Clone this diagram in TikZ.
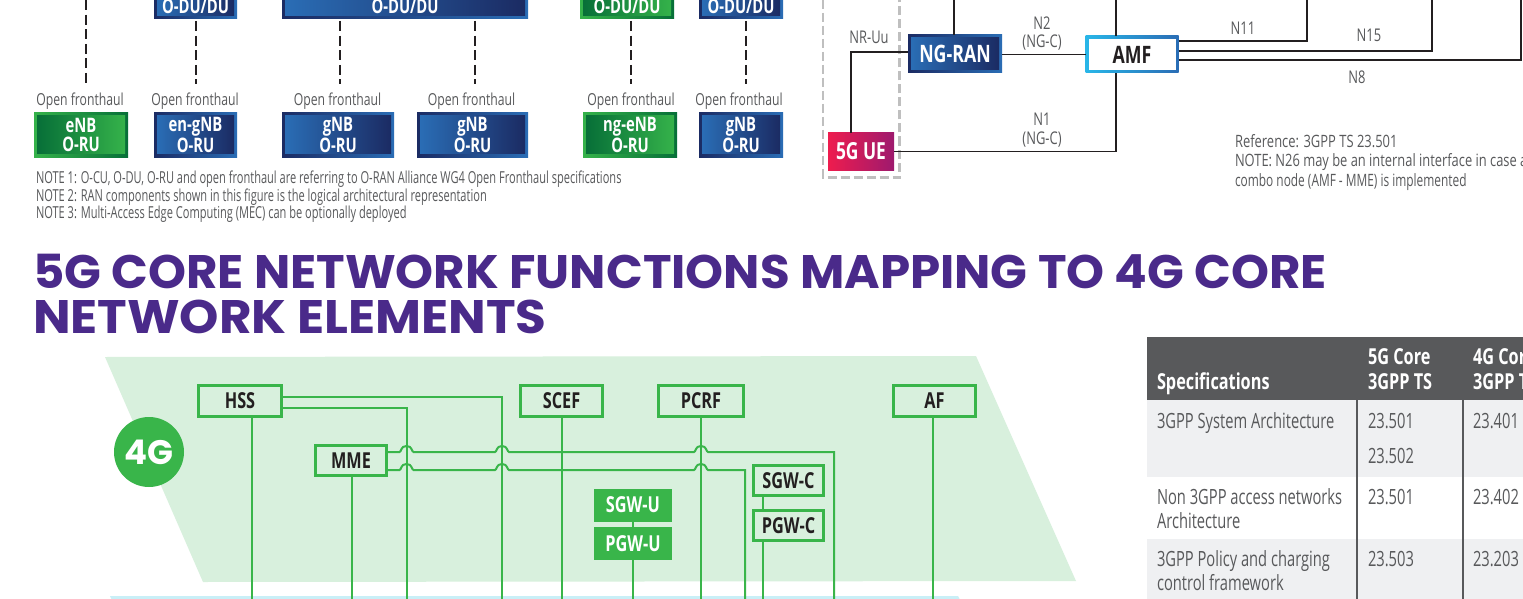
\documentclass[tikz,border=0pt]{standalone}
\usepackage{fontspec}
\setmainfont{Open Sans}
\newfontfamily\cond[FakeStretch=0.74]{Open Sans}
\newfontfamily\ncond[FakeStretch=0.67]{Open Sans}
\newfontfamily\tcond[FakeStretch=0.70]{Open Sans}
\newfontfamily\titlef{Poppins}
\definecolor{lg}{HTML}{58595B}
\definecolor{ink}{HTML}{231F20}
\definecolor{gr}{HTML}{39B54A}
\definecolor{bgr}{HTML}{D8F0DD}
\definecolor{bluestrip}{HTML}{C9EFF7}
\definecolor{purp}{HTML}{4A2A8A}
\definecolor{bl}{HTML}{2A6DB5}
\definecolor{bd}{HTML}{1B2B63}
\definecolor{gl}{HTML}{35B24A}
\definecolor{gd}{HTML}{076F38}
\definecolor{rowg}{HTML}{EFF0F2}
\definecolor{uer}{HTML}{EE1C4E}
\definecolor{uem}{HTML}{9E1A6E}
\definecolor{amfc}{HTML}{29B6E8}
\tikzset{
  every node/.style={inner sep=0pt,outer sep=0pt},
  lab/.style={font=\cond\fontsize{16.5}{17}\selectfont,text=lg,anchor=base},
  ifl/.style={font=\cond\fontsize{17.5}{18}\selectfont,text=lg,anchor=base},
  notew/.style={font=\ncond\fontsize{16.5}{17}\selectfont,text=lg,anchor=base west},
  refw/.style={font=\cond\fontsize{17}{18}\selectfont,text=lg,anchor=base west,transform shape},
  bo/.style={left color=bd,right color=bl},
  bi/.style={left color=bl,right color=bd,text=white},
  go/.style={left color=gl,right color=gd},
  gi/.style={left color=gd,right color=gl,text=white},
  boxt/.style={font=\cond\bfseries\fontsize{20}{18.5}\selectfont,align=center},
  dsh/.style={draw=ink,line width=2pt,dash pattern=on 10pt off 4.6pt},
  blk/.style={draw=ink,line width=1.8pt},
  gw/.style={draw=gr,line width=2pt},
  gbx/.style={draw=gr,line width=3pt,font=\cond\bfseries\fontsize{22}{22}\selectfont,text=ink,anchor=center},
  gfl/.style={fill=gr,font=\cond\bfseries\fontsize{22}{22}\selectfont,text=white,anchor=center},
  th/.style={font=\cond\bfseries\fontsize{22}{22}\selectfont,text=white,anchor=base west},
  td/.style={font=\tcond\fontsize{21}{21}\selectfont,text=lg,anchor=base west},
  ttl/.style={anchor=base west,font=\titlef\bfseries\fontsize{47}{47}\selectfont,text=purp,transform shape},
}
\newcommand\gb[7]{%
  \pgfmathsetmacro\wi{#4-6}\pgfmathsetmacro\hi{#5-6}%
  \node[#6o,minimum width=#4pt,minimum height=#5pt] (#1) at (#2,#3) {};
  \node[#6i,boxt,minimum width=\wi pt,minimum height=\hi pt] (#1-i) at (#2,#3) {#7};
}
\newcommand\hopat[2]{-- (#1-7,#2) .. controls (#1-5,#2) and (#1-6,#2-6) .. (#1,#2-6) .. controls (#1+6,#2-6) and (#1+5,#2) .. (#1+7,#2)}
\begin{document}
\begin{tikzpicture}[x=1pt,y=-1pt]
\clip (0,0) rectangle (1523,599);
\fill[white] (0,0) rectangle (1523,599);
% --- top-left RAN
\gb{t1}{195.5}{6}{83}{26}{b}{O-DU/DU}
\gb{t2}{405}{6}{246}{26}{b}{O-DU/DU}
\gb{t3}{627}{6}{94}{26}{g}{O-DU/DU}
\gb{t4}{741}{6}{84}{26}{b}{O-DU/DU}
\gb{r1}{81}{135}{94}{44}{g}{eNB\\O-RU}
\gb{r2}{195.5}{135}{83}{44}{b}{en-gNB\\O-RU}
\gb{r3}{338}{135}{112}{44}{b}{gNB\\O-RU}
\gb{r4}{472.5}{135}{111}{44}{b}{gNB\\O-RU}
\gb{r5}{630}{135}{94}{44}{g}{ng-eNB\\O-RU}
\gb{r6}{741}{135}{84}{44}{b}{gNB\\O-RU}
\coordinate (e0) at (85.5,84);\coordinate (e1) at (195.5,84);\coordinate (e2) at (339.5,84);
\coordinate (e3) at (474.5,84);\coordinate (e4) at (630.5,84);\coordinate (e5) at (745.5,84);
\coordinate (s0) at (85.5,0);
\draw[dsh] (s0) -- (e0);
\draw[dsh] (t1.south -| e1) ++(0,2) -- (e1);
\draw[dsh] (t2.south -| e2) ++(0,2) -- (e2);
\draw[dsh] (t2.south -| e3) ++(0,2) -- (e3);
\draw[dsh] (t3.south -| e4) ++(0,2) -- (e4);
\draw[dsh] (t4.south -| e5) ++(0,2) -- (e5);
\foreach \n/\x in {o1/80,o2/195,o3/337.5,o4/471.5,o5/631,o6/739}
  \node[lab] (\n) at (\x,106) {Open fronthaul};
\node[notew] (n1) at (36,183) {NOTE 1: O-CU, O-DU, O-RU and open fronthaul are referring to O-RAN Alliance WG4 Open Fronthaul specifications};
\node[notew] (n2) at (36,201) {NOTE 2: RAN components shown in this figure is the logical architectural representation};
\node[notew] (n3) at (36,218) {NOTE 3: Multi-Access Edge Computing (MEC) can be optionally deployed};
% --- top-right 5G
\draw[draw=black!25,line width=2.2pt,dash pattern=on 9pt off 4pt] (823,0) -- (823,177.5) -- (899.5,177.5) -- (899.5,0);
\gb{ran}{955}{54}{94}{38}{b}{\fontsize{24}{24}\selectfont NG-RAN}
\node[left color=amfc,right color=bl,minimum width=93pt,minimum height=37pt] (amfo) at (1132,54.5) {};
\node[fill=white,text=ink,font=\cond\bfseries\fontsize{24}{24}\selectfont,minimum width=87pt,minimum height=31pt] (amf) at (1132,54.5) {AMF};
\node[left color=uer,right color=uem,text=white,font=\cond\bfseries\fontsize{23.5}{24}\selectfont,minimum width=66pt,minimum height=37pt] (ue) at (861,151.5) {5G UE};
\coordinate (c1) at (954,0);\coordinate (c2) at (1116,0);\coordinate (c3) at (851,52);
\coordinate (c4) at (1307,0);\coordinate (c5) at (1432,0);\coordinate (c6) at (1521,0);
\draw[blk] (ran.north -| c1) -- (c1);
\draw[blk] (amfo.north -| c2) -- (c2);
\draw[blk] (ue.north -| c3) -- (c3) -- (ran.west |- c3);
\draw[blk] (ran.east |- 0,54.5) -- (amfo.west |- 0,54.5);
\draw[blk] (ue.east) -- (ue.east -| c2) -- (amfo.south -| c2);
\draw[draw=ink,line width=1.5pt] (amfo.east |- 0,41) -- (c4 |- 0,41) -- (c4);
\draw[draw=ink,line width=2pt] (amfo.east |- 0,51) -- (c5 |- 0,51) -- (c5);
\draw[draw=ink,line width=1.5pt] (amfo.east |- 0,60) -- (c6 |- 0,60) -- (c6);
\node[ifl] (lnr) at (869,44) {NR-Uu};
\node[ifl] (ln2) at (1042,30) {N2};
\node[ifl] (ln2b) at (1042,48) {(NG-C)};
\node[ifl] (ln1) at (1042,126) {N1};
\node[ifl] (ln1b) at (1042,145) {(NG-C)};
\node[ifl] (ln11) at (1243,35) {N11};
\node[ifl] (ln15) at (1369,42) {N15};
\node[ifl] (ln8) at (1357,84) {N8};
\node[refw,xscale=1.03] (rf1) at (1235,147) {Reference: 3GPP TS 23.501};
\node[refw,xscale=1.025] (rf2) at (1235,167) {NOTE: N26 may be an internal interface in case a};
\node[refw,xscale=0.945] (rf3) at (1235,186) {combo node (AMF - MME) is implemented};
% --- title
\node[ttl,xscale=1.028] (title1) at (33,288) {5G CORE NETWORK FUNCTIONS MAPPING TO 4G CORE};
\node[ttl,xscale=1.065] (title2) at (33,333) {NETWORK ELEMENTS};
% --- 4G plane
\fill[bgr] (105,357) -- (976,356) -- (1076,581) -- (203,582) -- cycle;
\fill[bluestrip] (110,596) -- (958,596) -- (960,600) -- (112,600) -- cycle;
\node[circle,fill=gr,minimum size=70pt,text=white,font=\titlef\bfseries\fontsize{34}{34}\selectfont] (g4) at (149,452) {4G};
\node[gbx,minimum width=83pt,minimum height=31pt] (hss) at (240,401) {HSS};
\node[gbx,minimum width=71pt,minimum height=30pt] (mme) at (351,460.5) {MME};
\node[gbx,minimum width=82pt,minimum height=31pt] (scef) at (561.5,401) {SCEF};
\node[gbx,minimum width=85pt,minimum height=31pt] (pcrf) at (701,401) {PCRF};
\node[gbx,minimum width=82pt,minimum height=31pt] (af) at (934.5,401) {AF};
\node[gbx,minimum width=70pt,minimum height=30pt] (sgwc) at (788.5,480.5) {SGW-C};
\node[gbx,minimum width=70pt,minimum height=30pt] (pgwc) at (788.5,525.5) {PGW-C};
\node[gfl,minimum width=78pt,minimum height=33pt] (sgwu) at (633,505) {SGW-U};
\node[gfl,minimum width=78pt,minimum height=33pt] (pgwu) at (633,543.5) {PGW-U};
\coordinate (b1) at (252,599);\coordinate (b2) at (352,599);\coordinate (b3) at (406.5,599);
\coordinate (b4) at (502,599);\coordinate (b5) at (562,599);\coordinate (b6) at (633,599);
\coordinate (b7) at (701,599);\coordinate (b8) at (745,599);\coordinate (b9) at (763,599);
\coordinate (b10) at (834,599);\coordinate (b11) at (933,599);
\draw[gw] (hss.south -| b1) -- (b1);
\draw[gw] (mme.south -| b2) -- (b2);
\draw[gw] (hss.east |- 0,408) -- (406.5,408) -- (b3);
\draw[gw] (hss.east |- 0,397) -- (502,397) -- (b4);
\draw[gw] (scef.south -| b5) -- (b5);
\draw[gw] (pgwu.south -| b6) -- (b6);
\draw[gw] (sgwu) -- (pgwu);
\draw[gw] (pcrf.south -| b7) -- (b7);
\draw[gw] (af.south -| b11) -- (b11);
\draw[gw] (sgwc.south -| b9) -- (pgwc.north -| b9);
\draw[gw] (pgwc.south -| b9) -- (b9);
\draw[gw] (mme.east |- 0,452) \hopat{406.5}{452} \hopat{502}{452} \hopat{701}{452} -- (834,452) -- (b10);
\draw[gw] (mme.east |- 0,470) \hopat{406.5}{470} \hopat{502}{470} \hopat{701}{470} -- (745,470) -- (b8);
% --- table
\fill[lg] (1147,337) rectangle (1523,400);
\fill[rowg] (1147,400) rectangle (1523,477);
\fill[rowg] (1147,539) rectangle (1523,599);
\coordinate (v1t) at (1357,337);\coordinate (v1b) at (1357,599);
\coordinate (v2t) at (1463,337);\coordinate (v2b) at (1463,599);
\draw[lg,line width=1.5pt] (v1t) -- (v1b);
\draw[lg,line width=1.5pt] (v2t) -- (v2b);
\node[th] (h1) at (1157,389) {Specifications};
\node[th] (h2) at (1368,364) {5G Core};
\node[th] (h3) at (1368,389) {3GPP TS};
\node[th] (h4) at (1473,364) {4G Core};
\node[th] (h5) at (1473,389) {3GPP TS};
\node[td] (d1) at (1157,428) {3GPP System Architecture};
\node[td] (d2) at (1368,428) {23.501};
\node[td] (d3) at (1368,463) {23.502};
\node[td] (d4) at (1473,428) {23.401};
\node[td] (d5) at (1157,504) {Non 3GPP access networks};
\node[td] (d6) at (1157,528) {Architecture};
\node[td] (d7) at (1368,504) {23.501};
\node[td] (d8) at (1473,504) {23.402};
\node[td] (d9) at (1157,566) {3GPP Policy and charging};
\node[td] (d10) at (1157,590) {control framework};
\node[td] (d11) at (1368,566) {23.503};
\node[td] (d12) at (1473,566) {23.203};
\end{tikzpicture}
\end{document}
